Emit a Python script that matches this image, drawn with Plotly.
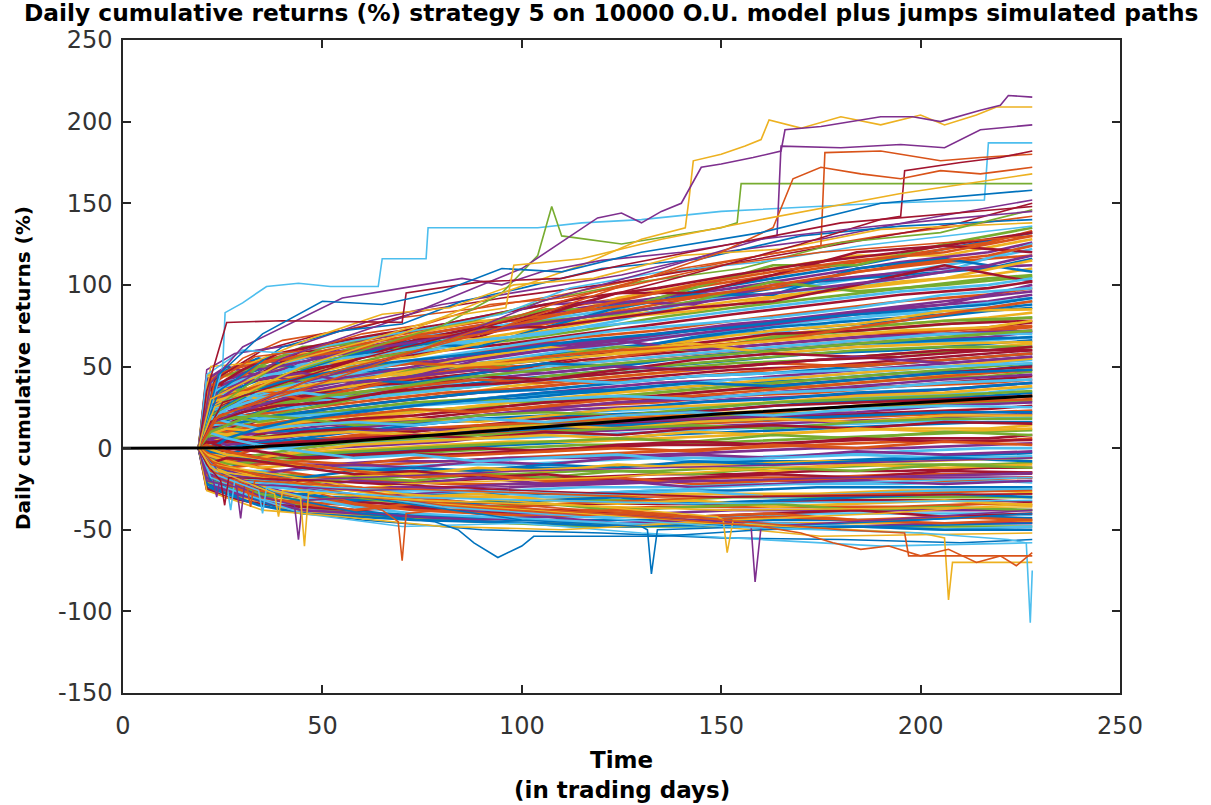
import plotly.graph_objects as go

# MATLAB default line colour order
LINE_COLORS = ["#0072BD", "#D95319", "#EDB120", "#7E2F8E", "#77AC30", "#4DBEEE", "#A2142F"]

TITLE = "Daily cumulative returns (%) strategy 5 on 10000 O.U. model plus jumps simulated paths"
Y_LABEL = "Daily cumulative returns (%)"
X_LABEL_1 = "Time"
X_LABEL_2 = "(in trading days)"

X_TICKS = [0, 50, 100, 150, 200, 250]
X_TICK_TEXT = ["0", "50", "100", "150", "200", "250"]
Y_TICKS = [-150, -100, -50, 0, 50, 100, 150, 200, 250]
Y_TICK_TEXT = ["-150", "-100", "-50", "0", "50", "100", "150", "200", "250"]

# every path is flat at 0 until the strategy starts trading
START_DAY = 19
START_VALUE = 0

# bulk of the simulated paths, first batch sampled on grid A
CORE_DAYS_A = [21, 26, 34, 45, 58, 73, 89, 106, 124, 143, 163, 184, 206, 228]
CORE_PATHS_A = [
    [30, 42, 48, 55, 60, 66, 72, 80, 88, 96, 104, 112, 122, 132],
    [45, 44, 52, 58, 58, 70, 78, 78, 92, 100, 110, 118, 118, 128],
    [20, 35, 50, 50, 62, 62, 75, 85, 85, 98, 112, 112, 125, 135],
    [38, 38, 45, 60, 57, 68, 68, 82, 95, 95, 106, 120, 124, 120],
    [25, 30, 38, 47, 55, 60, 70, 76, 84, 92, 98, 108, 114, 118],
    [42, 50, 44, 52, 65, 72, 80, 88, 90, 88, 100, 105, 110, 112],
    [15, 28, 40, 52, 50, 58, 66, 70, 78, 90, 95, 100, 108, 125],
    [35, 48, 55, 48, 58, 64, 62, 74, 86, 94, 94, 110, 116, 108],
    [28, 25, 36, 44, 52, 56, 64, 72, 80, 84, 92, 98, 104, 115],
    [40, 45, 50, 62, 64, 60, 72, 78, 82, 90, 102, 96, 100, 105],
    [22, 38, 42, 46, 54, 66, 74, 74, 80, 86, 90, 100, 112, 102],
    [33, 36, 52, 56, 60, 68, 70, 80, 90, 100, 108, 115, 120, 130],
    [18, 22, 30, 36, 42, 48, 55, 60, 66, 72, 78, 84, 90, 96],
    [30, 34, 32, 40, 46, 44, 52, 58, 64, 70, 70, 80, 86, 92],
    [10, 20, 28, 30, 38, 45, 50, 54, 60, 68, 74, 78, 82, 88],
    [25, 30, 40, 45, 40, 50, 56, 62, 58, 66, 72, 76, 84, 85],
    [35, 30, 34, 42, 50, 52, 48, 56, 62, 60, 68, 74, 78, 80],
    [12, 15, 22, 32, 38, 40, 46, 52, 60, 64, 70, 72, 76, 78],
    [20, 26, 24, 30, 36, 44, 50, 48, 56, 62, 66, 70, 72, 75],
    [28, 40, 46, 40, 44, 50, 58, 64, 66, 60, 64, 68, 70, 72],
    [5, 12, 20, 26, 34, 36, 42, 50, 54, 58, 62, 66, 70, 70],
    [15, 25, 35, 38, 42, 40, 46, 52, 50, 56, 60, 64, 66, 68],
    [40, 36, 30, 34, 38, 46, 52, 56, 60, 64, 58, 62, 64, 65],
    [8, 10, 18, 24, 30, 34, 38, 44, 48, 52, 56, 60, 62, 62],
    [22, 28, 26, 32, 30, 38, 44, 42, 48, 54, 58, 56, 60, 60],
    [30, 32, 38, 44, 48, 52, 50, 56, 60, 62, 66, 74, 82, 90],
    [14, 18, 26, 34, 40, 44, 54, 60, 64, 70, 76, 82, 88, 100],
    [26, 24, 34, 40, 46, 54, 60, 66, 72, 76, 80, 86, 94, 98],
    [10, 14, 18, 22, 26, 30, 34, 36, 40, 44, 46, 50, 54, 58],
    [5, 8, 12, 16, 20, 22, 26, 30, 34, 38, 42, 46, 50, 55],
    [18, 20, 16, 20, 24, 28, 30, 28, 32, 36, 40, 44, 48, 52],
    [-5, 2, 8, 14, 18, 20, 24, 28, 30, 34, 38, 42, 46, 50],
    [12, 10, 14, 18, 20, 24, 22, 26, 30, 32, 36, 40, 44, 48],
    [2, 6, 10, 8, 12, 16, 20, 24, 28, 30, 34, 38, 42, 45],
    [25, 22, 18, 20, 22, 26, 28, 30, 32, 30, 34, 36, 40, 42],
    [-8, -4, 2, 6, 10, 14, 18, 20, 24, 28, 30, 34, 36, 40],
    [8, 12, 10, 14, 16, 18, 16, 20, 24, 26, 28, 32, 34, 38],
    [15, 18, 20, 18, 14, 16, 20, 22, 20, 24, 28, 30, 32, 35],
    [0, 4, 6, 10, 12, 10, 14, 18, 20, 22, 26, 28, 30, 32],
    [-10, -6, 0, 4, 8, 12, 14, 16, 18, 20, 22, 26, 28, 30],
    [6, 2, 4, 8, 10, 12, 10, 14, 16, 18, 20, 22, 26, 28],
    [20, 16, 12, 14, 16, 14, 18, 16, 20, 22, 20, 24, 26, 25],
    [-3, 0, 3, 6, 4, 8, 10, 12, 14, 16, 18, 20, 22, 22],
    [10, 8, 6, 8, 10, 8, 12, 14, 12, 16, 18, 16, 20, 20],
    [-12, -8, -4, 0, 4, 6, 8, 10, 12, 14, 12, 16, 18, 18],
    [3, 5, 2, 4, 6, 8, 6, 10, 8, 12, 14, 12, 16, 15],
    [28, 32, 36, 30, 34, 38, 42, 40, 44, 48, 52, 50, 54, 58],
    [35, 38, 42, 46, 40, 44, 48, 46, 50, 48, 52, 56, 52, 56],
    [16, 24, 30, 34, 30, 34, 38, 42, 40, 44, 46, 48, 50, 52],
    [-2, 6, 12, 18, 22, 26, 30, 34, 36, 40, 38, 42, 46, 48],
    [0, -4, -6, -2, 2, 4, 6, 8, 6, 10, 8, 12, 10, 12],
    [-6, -10, -8, -4, -2, 0, 2, 4, 6, 4, 8, 6, 10, 8],
    [4, 0, -2, -6, -4, -2, 0, -2, 2, 4, 2, 6, 4, 5],
    [-15, -12, -10, -8, -10, -6, -4, -2, 0, -2, 2, 0, 4, 2],
    [-8, -14, -16, -12, -10, -12, -8, -10, -6, -4, -6, -2, -4, -2],
    [10, 6, 2, -2, -6, -4, -8, -6, -4, -8, -6, -4, -6, -5],
    [-18, -20, -16, -18, -14, -12, -14, -10, -12, -8, -10, -8, -6, -8],
    [-4, -8, -12, -10, -14, -16, -12, -14, -10, -12, -14, -10, -12, -10],
    [-20, -16, -20, -22, -18, -20, -16, -18, -14, -16, -12, -14, -10, -12],
    [-10, -6, -8, -12, -16, -14, -18, -16, -20, -18, -16, -18, -14, -15],
    [2, -2, -6, -10, -14, -18, -16, -20, -18, -22, -20, -18, -20, -18],
    [-22, -26, -22, -24, -20, -22, -18, -22, -20, -24, -22, -20, -22, -20],
    [-14, -18, -22, -26, -24, -28, -26, -30, -28, -26, -30, -28, -26, -25],
    [-24, -28, -30, -28, -32, -30, -34, -32, -30, -34, -32, -30, -28, -30],
    [-6, -12, -18, -22, -26, -30, -28, -32, -34, -32, -36, -34, -32, -35],
    [-20, -24, -28, -32, -30, -34, -36, -34, -38, -36, -34, -38, -36, -38],
    [-25, -30, -34, -36, -38, -36, -40, -38, -40, -42, -40, -38, -42, -40],
    [-12, -20, -26, -30, -34, -38, -40, -42, -40, -44, -42, -44, -42, -44],
    [-18, -26, -32, -38, -40, -42, -44, -42, -46, -44, -46, -48, -46, -46],
    [-8, -16, -24, -30, -36, -40, -42, -44, -46, -48, -46, -48, -50, -48],
    [-22, -28, -35, -40, -42, -44, -45, -46, -48, -47, -49, -48, -50, -50],
    [-16, -22, -30, -34, -38, -34, -36, -40, -38, -42, -40, -44, -46, -44],
]

# second batch of paths, sampled on an offset grid B
CORE_DAYS_B = [22, 30, 39, 51, 65, 81, 97, 115, 134, 153, 174, 195, 217, 228]
CORE_PATHS_B = [
    [44, 50, 56, 62, 68, 74, 80, 88, 95, 102, 110, 118, 126, 133],
    [36, 46, 52, 58, 64, 72, 78, 86, 92, 98, 106, 114, 120, 126],
    [40, 42, 50, 60, 66, 70, 76, 82, 90, 96, 100, 108, 116, 122],
    [28, 38, 46, 54, 60, 66, 74, 80, 86, 94, 102, 106, 110, 116],
    [32, 44, 48, 52, 58, 64, 70, 78, 84, 90, 96, 102, 106, 110],
    [24, 34, 42, 48, 56, 62, 66, 72, 80, 86, 92, 98, 104, 106],
    [38, 40, 44, 50, 54, 60, 64, 70, 76, 82, 88, 94, 98, 102],
    [20, 30, 36, 44, 50, 56, 62, 68, 72, 78, 84, 90, 94, 98],
    [30, 36, 40, 46, 50, 54, 60, 64, 70, 76, 80, 86, 90, 94],
    [16, 26, 34, 40, 46, 52, 58, 62, 68, 72, 78, 82, 86, 90],
    [26, 32, 38, 42, 48, 50, 54, 60, 64, 70, 74, 78, 84, 86],
    [12, 22, 30, 36, 42, 48, 52, 58, 62, 66, 72, 76, 80, 83],
    [34, 36, 38, 44, 46, 50, 54, 56, 60, 64, 70, 74, 78, 80],
    [18, 24, 28, 34, 40, 44, 48, 54, 58, 62, 66, 70, 74, 77],
    [22, 28, 34, 36, 40, 46, 50, 52, 56, 60, 64, 68, 72, 74],
    [8, 16, 24, 30, 36, 40, 44, 48, 54, 58, 62, 66, 68, 71],
    [30, 30, 32, 36, 38, 42, 46, 50, 54, 56, 60, 64, 66, 68],
    [14, 20, 24, 28, 32, 38, 42, 46, 50, 54, 58, 60, 64, 66],
    [6, 12, 18, 24, 28, 32, 38, 42, 46, 50, 54, 58, 62, 64],
    [24, 26, 28, 30, 34, 36, 40, 44, 48, 52, 54, 58, 60, 62],
    [10, 14, 20, 24, 28, 32, 36, 40, 44, 48, 50, 54, 58, 60],
    [18, 20, 22, 26, 30, 34, 36, 40, 42, 46, 50, 52, 56, 58],
    [2, 8, 14, 18, 24, 28, 32, 36, 40, 42, 46, 50, 54, 56],
    [14, 16, 18, 22, 26, 28, 32, 34, 38, 42, 44, 48, 52, 54],
    [20, 18, 20, 22, 24, 28, 30, 34, 36, 40, 42, 46, 48, 51],
    [4, 10, 12, 16, 20, 24, 28, 30, 34, 38, 40, 44, 46, 49],
    [10, 12, 16, 18, 22, 24, 26, 30, 32, 36, 38, 42, 44, 47],
    [-4, 2, 8, 12, 16, 20, 24, 26, 30, 32, 36, 38, 42, 44],
    [16, 14, 14, 16, 18, 22, 24, 26, 28, 32, 34, 38, 40, 42],
    [6, 8, 10, 14, 16, 18, 22, 24, 26, 30, 32, 34, 38, 40],
    [0, 4, 6, 10, 12, 16, 18, 22, 24, 26, 30, 32, 34, 37],
    [12, 10, 10, 12, 14, 16, 18, 20, 22, 24, 28, 30, 32, 34],
    [-6, -2, 2, 6, 8, 12, 14, 18, 20, 22, 24, 28, 30, 32],
    [8, 6, 8, 10, 10, 12, 14, 16, 18, 20, 22, 26, 28, 29],
    [-2, 0, 2, 4, 6, 10, 12, 14, 16, 18, 20, 22, 24, 26],
    [4, 2, 4, 6, 8, 8, 10, 12, 14, 16, 18, 20, 22, 23],
    [-10, -6, -4, 0, 2, 4, 8, 10, 12, 14, 16, 18, 20, 21],
    [2, 0, 0, 2, 4, 6, 6, 8, 10, 12, 14, 16, 18, 19],
    [-14, -10, -6, -4, -2, 0, 2, 4, 8, 10, 12, 14, 16, 16],
    [-4, -6, -4, -2, 0, 2, 4, 4, 6, 8, 10, 12, 12, 14],
    [-8, -10, -8, -6, -4, -2, 0, 2, 2, 4, 6, 8, 10, 11],
    [0, -4, -6, -6, -4, -4, -2, 0, 2, 2, 4, 6, 6, 8],
    [-18, -16, -14, -12, -10, -8, -6, -4, -2, 0, 2, 4, 4, 6],
    [-6, -8, -10, -10, -8, -8, -6, -6, -4, -2, 0, 0, 2, 3],
    [-12, -14, -14, -12, -12, -10, -10, -8, -6, -6, -4, -2, 0, 0],
    [-2, -6, -10, -12, -14, -14, -12, -12, -10, -8, -8, -6, -4, -3],
    [-20, -20, -18, -18, -16, -14, -14, -12, -10, -10, -8, -8, -6, -6],
    [-10, -14, -16, -18, -18, -16, -16, -14, -14, -12, -12, -10, -10, -9],
    [-16, -18, -20, -20, -22, -20, -18, -18, -16, -16, -14, -14, -12, -12],
    [-4, -10, -14, -18, -20, -22, -22, -20, -20, -18, -18, -16, -16, -15],
    [-22, -24, -24, -26, -24, -24, -22, -22, -20, -20, -20, -18, -18, -18],
    [-12, -18, -22, -24, -26, -26, -26, -24, -24, -22, -22, -22, -20, -21],
    [-24, -26, -28, -30, -30, -28, -28, -28, -26, -26, -24, -24, -24, -24],
    [-8, -14, -20, -24, -28, -30, -30, -30, -28, -28, -28, -26, -26, -27],
    [-20, -24, -28, -32, -32, -34, -32, -32, -32, -30, -30, -30, -30, -30],
    [-16, -22, -28, -32, -34, -36, -36, -34, -34, -34, -32, -32, -32, -33],
    [-24, -30, -32, -34, -36, -38, -38, -38, -36, -36, -36, -36, -34, -35],
    [-12, -20, -26, -32, -36, -38, -40, -40, -40, -38, -38, -38, -38, -38],
    [-22, -28, -34, -38, -40, -42, -42, -42, -42, -42, -40, -40, -40, -41],
    [-18, -26, -32, -36, -40, -42, -44, -44, -44, -44, -44, -44, -42, -43],
    [-24, -30, -36, -40, -42, -44, -46, -46, -46, -46, -46, -46, -46, -45],
    [-14, -24, -32, -38, -42, -44, -46, -48, -48, -48, -48, -48, -48, -48],
    [36, 48, 58, 64, 70, 76, 84, 92, 98, 106, 114, 120, 128, 132],
    [42, 52, 54, 60, 66, 72, 78, 84, 90, 96, 104, 112, 118, 124],
    [26, 40, 50, 56, 62, 68, 74, 80, 86, 92, 98, 104, 112, 118],
    [34, 42, 46, 54, 58, 64, 68, 74, 78, 84, 90, 96, 100, 104],
    [20, 32, 40, 46, 52, 56, 60, 66, 70, 74, 80, 84, 88, 92],
    [28, 34, 36, 40, 44, 50, 52, 56, 60, 64, 68, 72, 74, 78],
    [10, 18, 26, 32, 36, 42, 46, 50, 54, 58, 62, 66, 70, 72],
    [16, 22, 26, 28, 34, 38, 40, 44, 48, 50, 54, 56, 60, 62],
]

# sparser paths just above / below the dense band: (days, values, colour index)
FRINGE_PATHS = [
    ([19, 22, 30, 40, 55, 70, 90, 110, 130, 160, 190, 228],
     [0, 38, 55, 66, 72, 80, 86, 94, 104, 118, 130, 142], 1),
    ([19, 23, 35, 50, 60, 75, 95, 120, 150, 180, 210, 228],
     [0, 42, 60, 70, 74, 84, 92, 100, 112, 125, 138, 150], 6),
    ([19, 21, 28, 45, 62, 80, 100, 125, 150, 175, 200, 228],
     [0, 48, 58, 64, 78, 88, 96, 106, 120, 128, 140, 152], 3),
    ([19, 24, 40, 55, 70, 85, 100, 120, 145, 170, 195, 228],
     [0, 35, 62, 72, 76, 90, 98, 110, 116, 130, 136, 140], 0),
    ([19, 22, 32, 48, 65, 82, 98, 118, 140, 165, 190, 228],
     [0, 50, 52, 68, 82, 86, 100, 104, 118, 122, 134, 138], 2),
    ([19, 25, 38, 52, 68, 88, 108, 130, 155, 180, 205, 228],
     [0, 28, 50, 63, 70, 78, 92, 102, 110, 126, 132, 146], 4),
    ([19, 21, 30, 42, 58, 78, 95, 112, 135, 160, 185, 228],
     [0, 45, 60, 58, 66, 74, 82, 98, 108, 114, 124, 136], 5),
    ([19, 23, 33, 46, 60, 76, 92, 110, 128, 150, 175, 228],
     [0, 40, 56, 60, 70, 76, 88, 92, 100, 112, 120, 130], 1),
    ([19, 22, 40, 60, 90, 120, 150, 180, 210, 228],
     [0, -20, -38, -44, -50, -52, -55, -56, -58, -56], 0),
    ([19, 23, 45, 70, 100, 130, 160, 190, 228],
     [0, -22, -40, -48, -46, -52, -56, -60, -58], 5),
    ([19, 21, 35, 55, 80, 110, 140, 175, 228],
     [0, -26, -38, -42, -48, -50, -46, -54, -52], 2),
]

# paths that stand out above and below the bulk: (days, values, colour index)
UPPER_PATHS = [
    ([19, 25, 25.6, 30, 36, 44, 52, 64, 65, 76, 76.5, 104, 115, 130, 150, 190, 216, 217, 228],
     [0, 50, 83, 89, 99, 101, 99, 99, 116, 116, 135, 135, 138, 140, 145, 150, 152, 187, 187], 5),
    ([19, 22, 40, 60, 80, 95, 104, 107.5, 110, 125, 150, 154, 155, 228],
     [0, 20, 45, 60, 75, 95, 118, 148, 130, 125, 135, 138, 162, 162], 4),
    ([19, 23, 45, 70, 95, 115, 130, 141, 142, 143, 150, 156, 160, 162, 170, 180, 190, 200, 206, 214, 219, 228],
     [0, 25, 50, 70, 95, 112, 128, 135, 154, 176, 180, 185, 189, 201, 196, 203, 198, 204, 198, 204, 209, 209], 2),
    ([19, 22, 40, 70, 100, 119, 125, 130, 135, 140, 145, 150, 158, 165, 166, 175, 190, 198, 205, 215, 220, 222, 228],
     [0, 30, 55, 80, 110, 141, 144, 138, 145, 150, 172, 174, 178, 182, 195, 197, 203, 203, 200, 207, 210, 216, 215], 3),
    ([19, 22, 45, 75, 105, 135, 160, 164, 165, 180, 195, 206, 215, 228],
     [0, 15, 40, 60, 90, 110, 128, 130, 185, 184, 186, 184, 195, 198], 3),
    ([19, 24, 50, 80, 110, 140, 170, 175, 176, 190, 205, 215, 228],
     [0, 20, 40, 65, 90, 110, 122, 124, 181, 182, 176, 178, 180], 1),
    ([19, 25, 60, 100, 140, 170, 190, 195, 196, 210, 220, 228],
     [0, 28, 55, 80, 105, 125, 140, 142, 170, 175, 178, 182], 6),
    ([19, 23, 50, 90, 120, 150, 163, 168, 175, 185, 195, 205, 215, 228],
     [0, 18, 45, 70, 95, 120, 135, 165, 172, 168, 165, 170, 168, 172], 1),
    ([19, 22, 30, 45, 55, 70, 85, 95, 105, 120, 140, 160, 185, 205, 228],
     [0, 40, 62, 80, 92, 98, 104, 100, 108, 115, 120, 128, 135, 140, 145], 3),
    ([19, 21, 26, 40, 70, 71, 90, 110, 125, 150, 180, 228],
     [0, 35, 77, 78, 77, 95, 102, 104, 112, 124, 138, 148], 6),
    ([19, 24, 35, 50, 65, 80, 95, 110, 130, 160, 190, 228],
     [0, 45, 70, 90, 88, 96, 110, 108, 120, 132, 150, 158], 0),
    ([19, 22, 40, 60, 80, 96, 98, 115, 135, 160, 195, 228],
     [0, 30, 52, 65, 80, 86, 112, 116, 128, 140, 156, 168], 2),
]

LOWER_PATHS = [
    ([19, 22, 40, 60, 78, 84, 88, 94, 100, 103, 115, 135, 160, 190, 228],
     [0, -10, -30, -40, -45, -50, -58, -67, -60, -54, -54, -54, -50, -48, -46], 0),
    ([19, 22, 45, 65, 69, 70, 71, 80, 110, 150, 190, 228],
     [0, -8, -25, -38, -45, -69, -40, -38, -34, -30, -28, -26], 1),
    ([19, 21, 35, 43, 44, 45, 60, 100, 150, 228],
     [0, -15, -30, -35, -56, -32, -30, -24, -20, -15], 3),
    ([19, 23, 38, 44.5, 45.5, 46.5, 70, 120, 180, 228],
     [0, -12, -26, -30, -60, -28, -22, -18, -10, -6], 2),
    ([19, 24, 60, 100, 130, 131.5, 132.5, 134, 160, 200, 228],
     [0, -15, -30, -44, -48, -50, -77, -50, -48, -44, -40], 0),
    ([19, 25, 70, 120, 155, 157.5, 158.5, 160, 190, 228],
     [0, -18, -32, -40, -46, -48, -82, -48, -44, -38], 3),
    ([19, 22, 70, 120, 149, 150.5, 151.5, 153, 190, 228],
     [0, -10, -28, -36, -42, -44, -64, -44, -40, -34], 2),
    ([19, 23, 80, 150, 200, 206, 207, 208, 228],
     [0, -14, -34, -46, -52, -55, -93, -70, -70], 2),
    ([19, 24, 80, 150, 200, 222, 226.5, 227.5, 228],
     [0, -16, -36, -48, -52, -56, -58, -107, -75], 5),
    ([19, 22, 60, 120, 160, 170, 178, 185, 192, 200, 207, 214, 220, 224, 228],
     [0, -10, -30, -40, -48, -52, -58, -62, -60, -66, -62, -70, -66, -72, -64], 1),
    ([19, 24, 70, 140, 180, 196, 197, 228],
     [0, -12, -30, -42, -50, -52, -66, -66], 1),
    ([19, 21, 22.5, 23.5, 24.5, 40, 100, 170, 228],
     [0, -15, -18, -30, -16, -20, -14, -10, -6], 3),
    ([19, 22, 26, 27, 28, 50, 110, 170, 228],
     [0, -18, -22, -38, -20, -24, -28, -22, -18], 5),
    ([19, 21, 28.5, 29.5, 30.5, 60, 120, 180, 228],
     [0, -20, -24, -43, -22, -26, -22, -18, -16], 3),
    ([19, 22, 31, 32, 33, 60, 130, 228],
     [0, -14, -22, -36, -20, -24, -30, -28], 1),
    ([19, 23, 34, 35, 36, 70, 140, 228],
     [0, -16, -26, -40, -24, -30, -34, -32], 5),
    ([19, 21, 24.5, 25.5, 26.5, 50, 100, 150, 228],
     [0, -10, -20, -35, -18, -20, -26, -30, -28], 6),
    ([19, 22, 38, 39, 40, 75, 150, 228],
     [0, -12, -28, -42, -26, -32, -38, -36], 2),
]

# average over all paths
MEAN_DAYS = [0, 19, 30, 50, 75, 100, 125, 150, 175, 200, 228]
MEAN_VALUES = [0, 0, 0.3, 3, 7.5, 12, 16.5, 21, 24.5, 28, 32]

CORE_WIDTH = 2.6
OUTLIER_WIDTH = 1.6
AXIS_COLOR = "#262626"
FONT = "DejaVu Sans, Verdana, sans-serif"

fig = go.Figure()

# interleave the two batches so the colours mix through the band
traces_core = []
for days, rows in ((CORE_DAYS_A, CORE_PATHS_A), (CORE_DAYS_B, CORE_PATHS_B)):
    for row in rows:
        traces_core.append(([START_DAY] + days, [START_VALUE] + row))
order = []
half = len(CORE_PATHS_A)
for k in range(max(half, len(CORE_PATHS_B))):
    if k < half:
        order.append(traces_core[k])
    if half + k < len(traces_core):
        order.append(traces_core[half + k])

for i, (xs, ys) in enumerate(order):
    fig.add_trace(go.Scatter(
        x=xs, y=ys, mode="lines",
        line=dict(color=LINE_COLORS[i % len(LINE_COLORS)], width=CORE_WIDTH),
        hoverinfo="skip"))

for days, values, ci in FRINGE_PATHS + UPPER_PATHS + LOWER_PATHS:
    fig.add_trace(go.Scatter(
        x=days, y=values, mode="lines",
        line=dict(color=LINE_COLORS[ci], width=OUTLIER_WIDTH),
        hoverinfo="skip"))

fig.add_trace(go.Scatter(
    x=MEAN_DAYS, y=MEAN_VALUES, mode="lines",
    line=dict(color="#000000", width=3), hoverinfo="skip"))

axis_common = dict(
    showgrid=False, zeroline=False, showline=True, linecolor=AXIS_COLOR, linewidth=1.5,
    mirror="ticks", ticks="inside", ticklen=8, tickwidth=1.5, tickcolor=AXIS_COLOR,
    tickfont=dict(family=FONT, size=24, color="#333333"),
)

fig.update_layout(
    width=1211, height=805,
    margin=dict(l=123, r=91, t=40, b=112),
    paper_bgcolor="white", plot_bgcolor="white",
    showlegend=False,
    xaxis=dict(range=[0, 250], tickvals=X_TICKS, ticktext=X_TICK_TEXT, ticklabelstandoff=10, **axis_common),
    yaxis=dict(range=[-150, 250], tickvals=Y_TICKS, ticktext=Y_TICK_TEXT, ticklabelstandoff=4, **axis_common),
    annotations=[
        dict(text="<b>" + TITLE + "</b>", xref="paper", yref="paper", x=0.4895, y=1.042,
             xanchor="center", yanchor="middle", showarrow=False,
             font=dict(family=FONT, size=23.3, color="#000000")),
        dict(text="<b>" + Y_LABEL + "</b>", xref="paper", yref="paper", x=-0.1003, y=0.4977,
             xanchor="center", yanchor="middle", textangle=-90, showarrow=False,
             font=dict(family=FONT, size=20, color="#000000")),
        dict(text="<b>" + X_LABEL_1 + "</b>", xref="paper", yref="paper", x=0.5, y=-0.1026,
             xanchor="center", yanchor="middle", showarrow=False,
             font=dict(family=FONT, size=23, color="#000000")),
        dict(text="<b>" + X_LABEL_2 + "</b>", xref="paper", yref="paper", x=0.5, y=-0.1485,
             xanchor="center", yanchor="middle", showarrow=False,
             font=dict(family=FONT, size=23, color="#000000")),
    ],
)

fig.write_html("out.html")
